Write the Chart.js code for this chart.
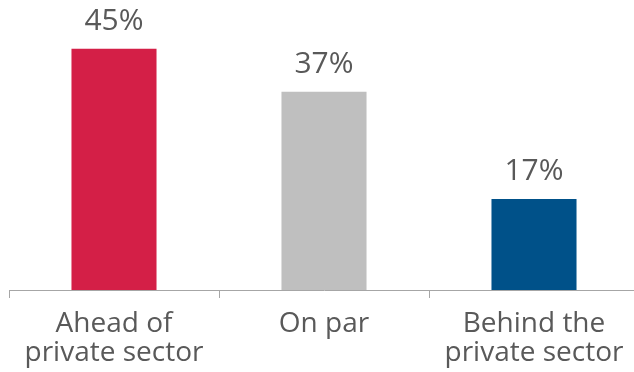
<!DOCTYPE html>
<html>
<head>
<meta charset="utf-8">
<script src="https://cdn.jsdelivr.net/npm/chart.js@4/dist/chart.umd.min.js"></script>
<style>
  html, body { margin: 0; padding: 0; background: #fff; overflow: hidden; }
  #wrap { width: 639px; height: 372px; }
</style>
</head>
<body>
<div id="wrap"><canvas id="c"></canvas></div>
<script>
const categories = [['Ahead of', 'private sector'], 'On par', ['Behind the', 'private sector']];
const shares = [45, 37, 17];
const barColors = ['#D41F47', '#BFBFBF', '#005189'];

const FONT = '"Open Sans", sans-serif';
const TEXT = '#595959';

// percentage labels above each bar
const valueLabels = {
    id: 'valueLabels',
    afterDatasetsDraw(chart) {
        const ctx = chart.ctx;
        const meta = chart.getDatasetMeta(0);
        ctx.save();
        ctx.font = '30px ' + FONT;
        ctx.fillStyle = TEXT;
        ctx.textAlign = 'center';
        ctx.textBaseline = 'alphabetic';
        meta.data.forEach(function(bar, i) {
            ctx.fillText(shares[i] + '%', bar.x, bar.y - 19);
        });
        ctx.restore();
    }
};

new Chart(document.getElementById('c'), {
    type: 'bar',
    data: {
        labels: categories,
        datasets: [{
            data: shares,
            backgroundColor: barColors,
            barPercentage: 0.405,
            categoryPercentage: 1.0
        }]
    },
    options: {
        responsive: true,
        maintainAspectRatio: false,
        animation: false,
        layout: {
            padding: { top: 22, left: 9, right: 0, bottom: 0 }
        },
        scales: {
            x: {
                offset: true,
                grid: {
                    offset: true,
                    drawOnChartArea: false,
                    tickLength: 8,
                    color: '#A6A6A6'
                },
                border: { color: '#A6A6A6', width: 1 },
                ticks: {
                    color: TEXT,
                    padding: 11,
                    maxRotation: 0,
                    font: { family: FONT, size: 28, lineHeight: 1.04 }
                },
                afterFit: function(scale) { scale.height = 82; }
            },
            y: {
                display: false,
                min: 0,
                max: 50
            }
        },
        plugins: {
            legend: { display: false },
            tooltip: { enabled: false }
        }
    },
    plugins: [valueLabels]
});
</script>
</body>
</html>
